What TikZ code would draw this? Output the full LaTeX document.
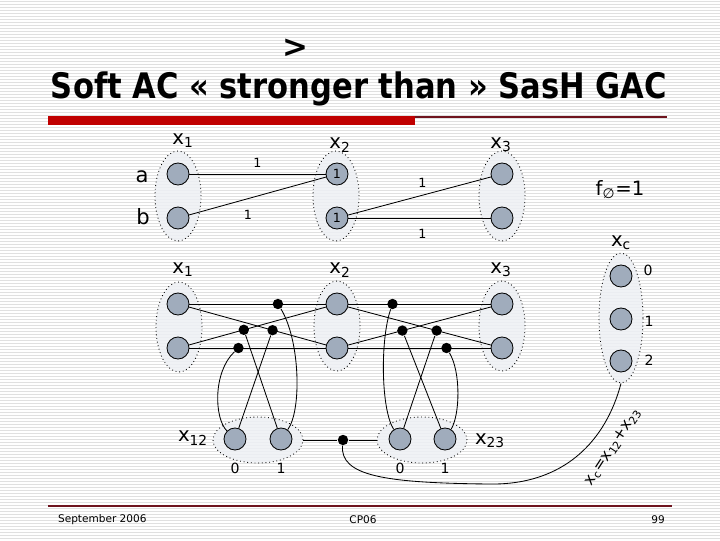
\documentclass[tikz,border=0pt]{standalone}
\usepackage{fontspec}
\setmainfont{DejaVu Sans}
\usetikzlibrary{shapes.geometric}
\definecolor{valgray}{RGB}{160,172,188}
\definecolor{domfill}{RGB}{238,240,244}
\definecolor{stripe}{RGB}{224,224,224}
\definecolor{barred}{RGB}{192,0,0}
\definecolor{rulered}{RGB}{110,20,30}
\tikzset{val/.style={circle, draw, fill=valgray, minimum size=0.55cm,
  inner sep=0pt, font=\fontsize{9}{9}\selectfont},
  blob/.style={circle, fill, minimum size=0.26cm, inner sep=0pt},
  dom/.style={ellipse, draw, dotted, fill=domfill, fill opacity=0.85,
  text opacity=1, minimum width=1.15cm, minimum height=2.25cm},
  hdom/.style={dom, minimum width=2.25cm, minimum height=1.15cm},
  lbl/.style={inner sep=1pt, font=\fontsize{9}{9}\selectfont},
  var/.style={inner sep=0pt, font=\fontsize{14}{14}\selectfont}}

\begin{document}
\begin{tikzpicture}[x=0.025cm, y=-0.025cm, line width=0.6pt]
  \useasboundingbox (0,0) rectangle (720,540);
  \fill[white] (0,0) rectangle (720,540);
  \foreach \y in {1.5,4.5,...,540}
    \draw[stripe, line width=0.7pt] (0,\y) -- (720,\y);

  % title
  \node[font=\bfseries\fontsize{22}{22}\selectfont] (gt) at (295,48) {>};
  \node[font=\bfseries\fontsize{25}{25}\selectfont] (title) at (359,89)
    {\scalebox{0.87}[1]{Soft AC « stronger than » SasH GAC}};
  \fill[barred] (48,116) rectangle (415,125);
  \draw[rulered, line width=0.8pt] (415,117) -- (667,117);

  % Soft AC
  \node[dom] (D1) at (178,196) {};
  \node[dom] (D2) at (336,196) {};
  \node[dom] (D3) at (502,196) {};
  \node[var] (X1) at (183,141) {x\textsubscript{1}};
  \node[var] (X2) at (340,145) {x\textsubscript{2}};
  \node[var] (X3) at (501,145) {x\textsubscript{3}};
  \node[var, font=\fontsize{15}{15}\selectfont] (la) at (142,177) {a};
  \node[var, font=\fontsize{15}{15}\selectfont] (lb) at (143,217) {b};
  \node[val] (a1) at (178,174) {};
  \node[val] (b1) at (178,218) {};
  \node[val] (a2) at (337,174) {1};
  \node[val] (b2) at (337,218) {1};
  \node[val] (a3) at (502,174) {};
  \node[val] (b3) at (502,218) {};
  \draw (a1) -- node[lbl, above=3pt] {1} (a2);
  \draw (b1) -- node[lbl, below=7pt, pos=0.43] {1} (a2);
  \draw (b2) -- node[lbl, above=4pt, pos=0.52] {1} (a3);
  \draw (b2) -- node[lbl, below=7pt, pos=0.52] {1} (b3);
  \node[var] (f0) at (620,190) {f\textsubscript{∅}=1};

  % SasH GAC
  \node[dom] (E1) at (179,327) {};
  \node[dom] (E2) at (337,326) {};
  \node[dom] (E3) at (502,326) {};
  \node[dom, minimum width=1.1cm, minimum height=3.25cm] (Ec) at (621,318) {};
  \node[hdom] (E12) at (258,440) {};
  \node[hdom] (E23) at (422,440) {};
  \node[var] (Y1) at (183,270) {x\textsubscript{1}};
  \node[var] (Y2) at (340,270) {x\textsubscript{2}};
  \node[var] (Y3) at (501,270) {x\textsubscript{3}};
  \node[var] (Yc) at (621,243) {x\textsubscript{c}};
  \node[var] (Y12) at (193,438) {x\textsubscript{12}};
  \node[var] (Y23) at (490,441) {x\textsubscript{23}};
  \node[val] (p1) at (178,304) {};
  \node[val] (q1) at (178,348) {};
  \node[val] (p2) at (337,304) {};
  \node[val] (q2) at (337,348) {};
  \node[val] (p3) at (502,304) {};
  \node[val] (q3) at (502,348) {};
  \node[val] (c0) at (621,276) {};
  \node[val] (c1) at (621,319) {};
  \node[val] (c2) at (621,361) {};
  \node[lbl, font=\fontsize{10}{10}\selectfont] at (648,270) {0};
  \node[lbl, font=\fontsize{10}{10}\selectfont] at (649,321) {1};
  \node[lbl, font=\fontsize{10}{10}\selectfont] at (649,360) {2};
  \node[val] (u0) at (235,439) {};
  \node[val] (u1) at (281,439) {};
  \node[val] (w0) at (400,439) {};
  \node[val] (w1) at (445,439) {};
  \node[lbl, font=\fontsize{10}{10}\selectfont] at (235,468) {0};
  \node[lbl, font=\fontsize{10}{10}\selectfont] at (281,468) {1};
  \node[lbl, font=\fontsize{10}{10}\selectfont] at (400,468) {0};
  \node[lbl, font=\fontsize{10}{10}\selectfont] at (445,468) {1};

  % support links
  \draw (p1) -- node[blob, pos=0.65] (k1) {} (p2);
  \draw (q1) -- node[blob, pos=0.36] (k4) {} (q2);
  \draw (p1) -- node[blob, pos=0.61] (k3) {} (q2);
  \draw (q1) -- node[blob, pos=0.40] (k2) {} (p2);
  \draw (p2) -- node[blob, pos=0.31] (m1) {} (p3);
  \draw (q2) -- node[blob, pos=0.69] (m4) {} (q3);
  \draw (q2) -- node[blob, pos=0.38] (m2) {} (p3);
  \draw (p2) -- node[blob, pos=0.62] (m3) {} (q3);
  \draw (k4) .. controls (213,372) and (214,418) .. (u0);
  \draw (k2) -- (u1);
  \draw (k3) -- (u0);
  \draw (k1) .. controls (300,340) and (302,410) .. (u1);
  \draw (m1) .. controls (380,340) and (381,410) .. (w0);
  \draw (m2) -- (w1);
  \draw (m3) -- (w0);
  \draw (m4) .. controls (461,372) and (460,415) .. (w1);
  \node[blob] (s) at (343,440) {};
  \draw (E12.east) -- (s) -- (E23.west);
  \draw (s) .. controls (340,476) and (385,483) .. (490,484)
    .. controls (565,485) and (606,440) .. (Ec.south);
  \node[inner sep=0pt, rotate=57, font=\fontsize{11}{11}\selectfont] (eq)
    at (613,447) {x\textsubscript{c}=x\textsubscript{12}+x\textsubscript{23}};

  % footer
  \draw[rulered, line width=0.8pt] (48,506) -- (672,506);
  \node[font=\fontsize{7.5}{8}\selectfont, anchor=west] (date) at (53,520)
    {September 2006};
  \node[font=\fontsize{7.5}{8}\selectfont] (conf) at (363,520) {CP06};
  \node[font=\fontsize{7.5}{8}\selectfont] (page) at (658,520) {99};
\end{tikzpicture}
\end{document}
